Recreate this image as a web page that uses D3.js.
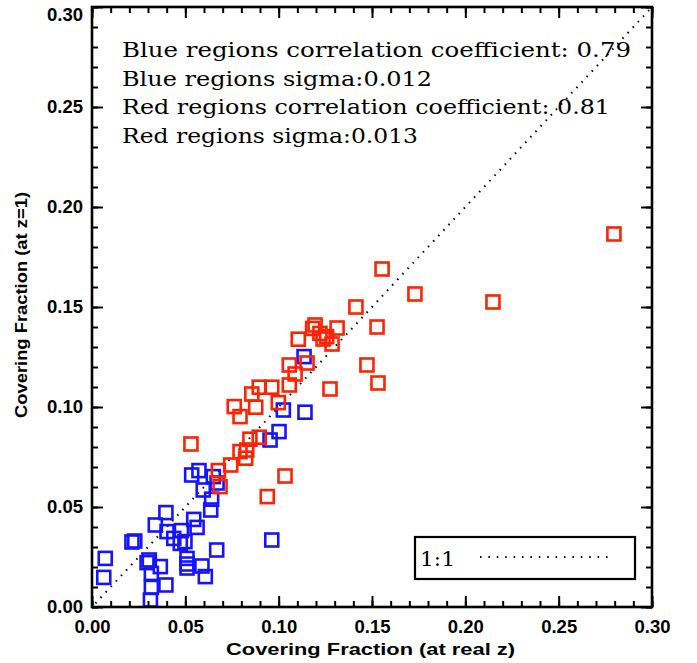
<!DOCTYPE html>
<html>
<head>
<meta charset="utf-8">
<script src="https://cdn.jsdelivr.net/npm/d3@7"></script>
<style>
  body { margin: 0; background: #fff; }
  svg { display: block; }
  .tick-label { font-family: "Liberation Sans", Arial, sans-serif; font-weight: bold; font-size: 18.5px; }
  .axis-title { font-family: "Liberation Sans", Arial, sans-serif; font-weight: bold; font-size: 17px; }
  .note { font-family: "DejaVu Serif", serif; font-size: 19.5px; }
</style>
</head>
<body>
<svg id="chart"></svg>
<script>
const WIDTH = 697;
const HEIGHT = 663;
const margin = { left: 92, right: 45, top: 7, bottom: 56 };

// covering fraction at real z (x) vs at z=1 (y)
const redX = [0.2796, 0.2148, 0.1730, 0.1554, 0.1414, 0.1527, 0.1473, 0.1532, 0.1275,
  0.1195, 0.1182, 0.1221, 0.1257, 0.1313, 0.1105, 0.1238, 0.1286, 0.1152, 0.1057, 0.1088,
  0.1057, 0.0963, 0.0896, 0.0856, 0.0998, 0.0762, 0.0877, 0.0793, 0.0530, 0.0896, 0.0846,
  0.0793, 0.0829, 0.0823, 0.0743, 0.0677, 0.0686, 0.1034, 0.0939];
const redY = [0.1865, 0.1525, 0.1565, 0.1690, 0.1500, 0.1400, 0.1210, 0.1120, 0.1090,
  0.1410, 0.1393, 0.1368, 0.1352, 0.1395, 0.1339, 0.1340, 0.1315, 0.1220, 0.1210, 0.1165,
  0.1110, 0.1099, 0.1099, 0.1065, 0.1022, 0.1002, 0.0999, 0.0952, 0.0815, 0.0849, 0.0839,
  0.0777, 0.0785, 0.0744, 0.0710, 0.0682, 0.0602, 0.0655, 0.0552];

const blueX = [0.1136, 0.1025, 0.1141, 0.1002, 0.0954, 0.0534, 0.0573, 0.0650, 0.0670,
  0.0596, 0.0641, 0.0636, 0.0396, 0.0545, 0.0563, 0.0339, 0.0402, 0.0479, 0.0438, 0.0473,
  0.0498, 0.0229, 0.0214, 0.0963, 0.0668, 0.0071, 0.0063, 0.0307, 0.0295, 0.0366, 0.0318,
  0.0396, 0.0318, 0.0313, 0.0509, 0.0509, 0.0509, 0.0589, 0.0607];
const blueY = [0.1252, 0.0985, 0.0974, 0.0877, 0.0835, 0.0660, 0.0682, 0.0652, 0.0620,
  0.0585, 0.0539, 0.0485, 0.0472, 0.0438, 0.0398, 0.0410, 0.0377, 0.0382, 0.0343, 0.0318,
  0.0327, 0.0330, 0.0325, 0.0335, 0.0285, 0.0243, 0.0148, 0.0235, 0.0222, 0.0202, 0.0168,
  0.0110, 0.0098, 0.0035, 0.0243, 0.0215, 0.0195, 0.0205, 0.0152];

const majorTicks = [0, 0.05, 0.1, 0.15, 0.2, 0.25, 0.3];
const minorTicks = d3.range(0, 31).map((d) => d / 100);
const notes = [
  "Blue regions correlation coefficient: 0.79",
  "Blue regions sigma:0.012",
  "Red regions correlation coefficient: 0.81",
  "Red regions sigma:0.013",
];
const noteWidths = [509, 310, 488, 296];

const innerW = WIDTH - margin.left - margin.right;
const innerH = HEIGHT - margin.top - margin.bottom;

const svg = d3.select("#chart").attr("width", WIDTH).attr("height", HEIGHT);

const x = d3.scaleLinear().domain([0, 0.3]).range([margin.left, margin.left + innerW]);
const y = d3.scaleLinear().domain([0, 0.3]).range([margin.top + innerH, margin.top]);

svg.append("clipPath").attr("id", "plot-clip")
  .append("rect")
  .attr("x", margin.left).attr("y", margin.top)
  .attr("width", innerW).attr("height", innerH);

const plot = svg.append("g").attr("clip-path", "url(#plot-clip)");

// 1:1 line
plot.append("line")
  .attr("x1", x(0)).attr("y1", y(0))
  .attr("x2", x(0.3)).attr("y2", y(0.3))
  .attr("stroke", "#000")
  .attr("stroke-width", 2)
  .attr("stroke-dasharray", "1.5 6")
  .attr("stroke-dashoffset", -5);

const SQ = 13;
const drawSquares = (xs, ys, color) => {
  plot.append("g")
    .selectAll("rect")
    .data(xs.map((d, i) => [d, ys[i]]))
    .join("rect")
    .attr("x", (d) => x(d[0]) - SQ / 2)
    .attr("y", (d) => y(d[1]) - SQ / 2)
    .attr("width", SQ)
    .attr("height", SQ)
    .attr("fill", "none")
    .attr("stroke", color)
    .attr("stroke-width", 2.6);
};
drawSquares(blueX, blueY, "#1414ff");
drawSquares(redX, redY, "#ff2200");

// axes, ticks on all four sides
const axes = [
  { gen: d3.axisBottom(x), at: `translate(0,${margin.top + innerH})`, labels: true, pad: 13 },
  { gen: d3.axisTop(x), at: `translate(0,${margin.top})`, labels: false, pad: 13 },
  { gen: d3.axisLeft(y), at: `translate(${margin.left},0)`, labels: true, pad: 9 },
  { gen: d3.axisRight(y), at: `translate(${margin.left + innerW},0)`, labels: false, pad: 9 },
];
axes.forEach((a) => {
  const minor = svg.append("g").attr("transform", a.at)
    .call(a.gen.tickValues(minorTicks).tickSize(-6).tickFormat(""));
  minor.select(".domain").remove();
  minor.selectAll("line").attr("stroke-width", 2);
  const major = svg.append("g").attr("transform", a.at)
    .call(a.gen.tickValues(majorTicks).tickSize(-11).tickPadding(a.pad)
      .tickFormat(a.labels ? d3.format(".2f") : ""));
  major.select(".domain").remove();
  major.selectAll("line").attr("stroke-width", 2);
  major.selectAll("text").attr("class", "tick-label").attr("fill", "#000");
});

// the top y label sits a little lower so it stays inside the picture
svg.selectAll(".tick-label")
  .filter((d, i, nodes) => d === 0.3 && nodes[i].getAttribute("x") !== null && +nodes[i].getAttribute("x") < 0)
  .attr("dy", "0.75em");

svg.append("rect")
  .attr("x", margin.left).attr("y", margin.top)
  .attr("width", innerW).attr("height", innerH)
  .attr("fill", "none").attr("stroke", "#000").attr("stroke-width", 2.6);

// axis titles
svg.append("text").attr("class", "axis-title")
  .attr("x", 226).attr("y", 655)
  .attr("textLength", 289)
  .attr("lengthAdjust", "spacingAndGlyphs")
  .text("Covering Fraction (at real z)");
svg.append("text").attr("class", "axis-title")
  .attr("transform", "translate(27,418) rotate(-90)")
  .attr("textLength", 226)
  .attr("lengthAdjust", "spacingAndGlyphs")
  .text("Covering Fraction (at z=1)");

// annotation lines
svg.append("g").selectAll("text")
  .data(notes)
  .join("text")
  .attr("class", "note")
  .attr("x", 122)
  .attr("y", (d, i) => 57 + i * 28.6)
  .attr("textLength", (d, i) => noteWidths[i])
  .attr("lengthAdjust", "spacingAndGlyphs")
  .text((d) => d);

// legend
const legend = svg.append("g");
legend.append("rect")
  .attr("x", 415).attr("y", 537).attr("width", 220).attr("height", 42)
  .attr("fill", "#fff").attr("stroke", "#000").attr("stroke-width", 2.2);
legend.append("text").attr("class", "note")
  .attr("x", 420).attr("y", 566).style("font-size", "21px")
  .attr("textLength", 35)
  .attr("lengthAdjust", "spacingAndGlyphs")
  .text("1:1");
legend.append("line")
  .attr("x1", 480).attr("x2", 610).attr("y1", 557).attr("y2", 557)
  .attr("stroke", "#000").attr("stroke-width", 2)
  .attr("stroke-dasharray", "1.5 6.9");
</script>
</body>
</html>
